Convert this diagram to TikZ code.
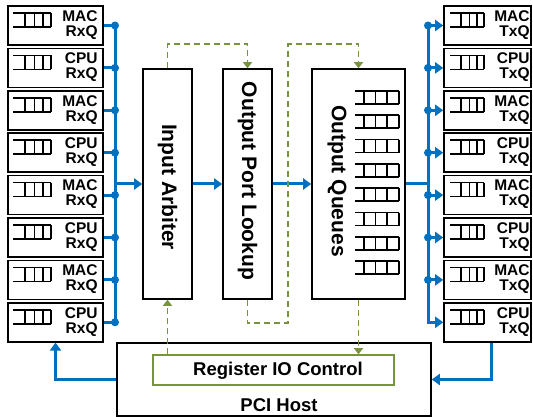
\documentclass[tikz,border=0pt]{standalone}
\usepackage{fontspec}
\setmainfont{Liberation Sans}
\usepackage{xcolor}
\usetikzlibrary{arrows.meta}
\definecolor{busblue}{RGB}{0,112,192}
\definecolor{ctrlgreen}{RGB}{119,147,60}
% queue icon: x, y (top left), width, height, positions of the bars
\newcommand{\qicon}[5]{%
  \draw[qline,shift={(#1,#2)}] (0,0) -- (#3,0) (0,#4) -- (#3,#4)
    \foreach \f in {#5} {({\f*#3},0) -- ({\f*#3},#4)};}

\begin{document}
\begin{tikzpicture}[x=1pt,y=-1pt,
  blk/.style={draw,line width=1.6pt,inner sep=0pt},
  qline/.style={line width=1.6pt},
  qlbl/.style={font=\fontsize{15.5}{15}\selectfont\bfseries,align=right,inner sep=0pt},
  vlbl/.style={font=\fontsize{21}{21}\selectfont\bfseries,rotate=-90,inner sep=0pt},
  lbl/.style={font=\fontsize{18.5}{18.5}\selectfont\bfseries,inner sep=0pt},
  bus/.style={busblue,line width=3pt},
  busarrow/.style={bus,-{Triangle[length=8pt,width=11pt]}},
  ctrl/.style={ctrlgreen,line width=1.6pt,dash pattern=on 6pt off 4pt},
  ctrlarrow/.style={ctrl,-{Triangle[length=6pt,width=9pt]}}]
\useasboundingbox (0,0) rectangle (533,417);
%
% receive queues on the left, transmit queues on the right
\foreach \i/\kind [evaluate=\i as \yc using {25.5+42.4*(\i-1)}] in
    {1/MAC,2/CPU,3/MAC,4/CPU,5/MAC,6/CPU,7/MAC,8/CPU} {
  \node[blk,minimum width=95pt,minimum height=39pt] (rx\i) at (55.5,\yc) {};
  \node[qlbl,anchor=east] (rxl\i) at ([xshift=-6pt,yshift=0.5pt]rx\i.east) {\kind\\RxQ};
  \qicon{13}{\yc-12.5}{38}{14}{0.32,0.57,0.79,1}
  \node[blk,minimum width=87pt,minimum height=39pt] (tx\i) at (487.5,\yc) {};
  \node[qlbl,anchor=east] (txl\i) at ([xshift=-2pt,yshift=0.5pt]tx\i.east) {\kind\\TxQ};
  \qicon{450}{\yc-12.5}{34}{14}{0.32,0.57,0.79,1}
}
%
% pipeline stages
\node[blk,minimum width=49pt,minimum height=230pt] (arb) at (167.5,184) {};
\node[vlbl] (arbl) at (167.5,187) {Input Arbiter};
\node[blk,minimum width=49pt,minimum height=230pt] (opl) at (247.5,184) {};
\node[vlbl] (opll) at (247.5,181) {Output Port Lookup};
\node[blk,minimum width=93pt,minimum height=230pt] (oq) at (358.5,184) {};
\node[vlbl] (oql) at (337,181) {Output Queues};
\foreach \r in {0,...,7}
  \qicon{355}{91+24.3*\r}{44}{13}{0.2,0.47,0.73,1}
%
% host side
\node[blk,minimum width=314pt,minimum height=73pt] (pci) at (274,379.5) {};
\node[lbl] (pcil) at (279,405) {PCI Host};
\node[draw=ctrlgreen,line width=1.6pt,minimum width=241pt,minimum height=30pt] (rio) at (273.5,370) {};
\node[lbl] (riol) at (278,370.5) {Register IO Control};
%
% data path
\coordinate (lbus) at (115,25.5);
\coordinate (rbus) at (428,25.5);
\draw[bus] (lbus) -- (lbus |- rx8.east);
\foreach \i in {1,...,8} {
  \draw[bus] (rx\i.east) -- (rx\i.east -| lbus);
  \fill[busblue] (rx\i.east -| lbus) circle (4pt);
}
\draw[busarrow] (arb.west -| lbus) -- (arb.west);
\draw[busarrow] (arb.east) -- (opl.west);
\draw[busarrow] (opl.east) -- (oq.west);
\draw[bus] (oq.east) -- (oq.east -| rbus);
\draw[busarrow] (rbus) |- (tx8.west);
\foreach \i in {1,...,7} {
  \draw[busarrow] (tx\i.west -| rbus) -- (tx\i.west);
  \fill[busblue] (tx\i.west -| rbus) circle (4pt);
}
\draw[busarrow] (pci.west) -| (rx8.south);
\draw[busarrow] ([xshift=4pt]tx8.south) |- (pci.east);
%
% register access
\coordinate (ctrlmid) at (288,323);
\draw[ctrlarrow] (arb.north) -- ++(0,-24) -| (opl.north);
\draw[ctrlarrow] (opl.south) |- (ctrlmid) |- ([yshift=24pt]oq.north) -- (oq.north);
\draw[ctrlarrow] (rio.north -| arb.south) -- (arb.south);
\draw[ctrlarrow] (oq.south) -- (oq.south |- rio.north);
\end{tikzpicture}
\end{document}
